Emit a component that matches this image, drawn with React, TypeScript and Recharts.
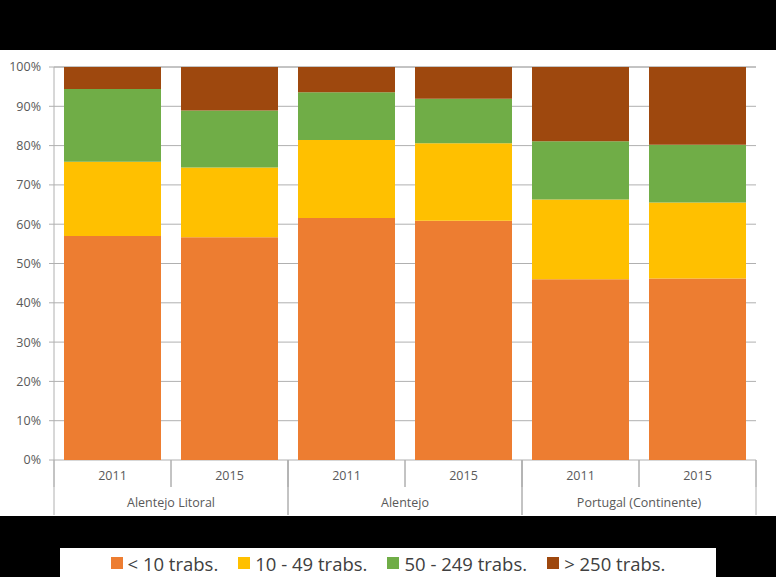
import React from 'react';
import { BarChart, Bar, XAxis, YAxis, CartesianGrid } from 'recharts';

const groups = ['Alentejo Litoral', 'Alentejo Litoral', 'Alentejo', 'Alentejo', 'Portugal (Continente)', 'Portugal (Continente)'];
const years = ['2011', '2015', '2011', '2015', '2011', '2015'];
const lt10 = [57.0, 56.7, 61.6, 60.9, 46.0, 46.2];
const r10to49 = [18.9, 17.7, 19.8, 19.7, 20.3, 19.3];
const r50to249 = [18.5, 14.5, 12.2, 11.3, 14.8, 14.7];
const gt250 = [5.6, 11.1, 6.4, 8.1, 18.9, 19.8];
const yTicks = [0, 10, 20, 30, 40, 50, 60, 70, 80, 90, 100];

const seriesNames = ['< 10 trabs.', '10 - 49 trabs.', '50 - 249 trabs.', '> 250 trabs.'];
const seriesKeys = ['a', 'b', 'c', 'd'];
const seriesColors = ['#ED7D31', '#FFC000', '#70AD47', '#9E480E'];

const data = years.map((y, i) => ({
  year: y,
  group: groups[i],
  a: lt10[i],
  b: r10to49[i],
  c: r50to249[i],
  d: gt250[i],
}));

const FONT = '"Open Sans", sans-serif';
const LINE = '#b0b0b0';
const TEXT = '#595959';

const YearTick = (props: any) => {
  const { x, y, payload } = props;
  const off = payload.offset;
  return (
    <g>
      <line x1={x - off} x2={x - off} y1={y} y2={y + 27} stroke={LINE} strokeWidth={1} />
      <line x1={x + off} x2={x + off} y1={y} y2={y + 27} stroke={LINE} strokeWidth={1} />
      <text x={x} y={y + 17} textAnchor="middle" dominantBaseline="middle" fontFamily={FONT} fontSize={12.5} fill={TEXT}>
        {payload.value}
      </text>
    </g>
  );
};

const GroupTick = (props: any) => {
  const { x, y, payload } = props;
  const off = payload.offset;
  return (
    <g>
      <line x1={x - off} x2={x - off} y1={y - 27} y2={y + 28} stroke={LINE} strokeWidth={1} />
      <line x1={x + off} x2={x + off} y1={y - 27} y2={y + 28} stroke={LINE} strokeWidth={1} />
      <text x={x} y={y + 17} textAnchor="middle" dominantBaseline="middle" fontFamily={FONT} fontSize={12.5} fill={TEXT}>
        {payload.value}
      </text>
    </g>
  );
};

export default function App() {
  return (
    <div style={{ position: 'absolute', left: 0, top: 0, width: 776, height: 577, background: '#000', overflow: 'hidden' }}>
      <div style={{ position: 'absolute', left: 0, top: 50, width: 776, height: 466, background: '#fff' }}>
        <BarChart
          width={776}
          height={465}
          data={data}
          margin={{ top: 17, right: 20, left: 0, bottom: 0 }}
          barCategoryGap={10}
        >
          <CartesianGrid vertical={false} stroke={LINE} />
          <XAxis
            dataKey="year"
            height={27}
            tickSize={0}
            tickMargin={0}
            axisLine={false}
            tick={<YearTick />}
            interval={0}
          />
          <XAxis
            xAxisId="group"
            dataKey="group"
            allowDuplicatedCategory={false}
            height={28}
            tickSize={0}
            tickMargin={0}
            axisLine={false}
            tick={<GroupTick />}
            interval={0}
          />
          <YAxis
            width={54}
            domain={[0, 100]}
            ticks={yTicks}
            interval={0}
            tickFormatter={(v: number) => `${v}%`}
            axisLine={{ stroke: LINE }}
            tickLine={{ stroke: LINE }}
            tickSize={5}
            tickMargin={8}
            tick={{ fontFamily: FONT, fontSize: 12.5, fill: TEXT }}
          />
          {seriesKeys.map((k, i) => (
            <Bar key={k} dataKey={k} name={seriesNames[i]} stackId="s" fill={seriesColors[i]} isAnimationActive={false} />
          ))}
        </BarChart>
      </div>
      <div
        style={{
          position: 'absolute',
          left: 60,
          top: 548,
          width: 656,
          height: 40,
          background: '#fff',
          display: 'flex',
          justifyContent: 'center',
          alignItems: 'flex-start',
          paddingTop: 2,
          boxSizing: 'border-box',
          fontFamily: FONT,
          fontSize: 18.5,
          color: '#404040',
        }}
      >
        {seriesNames.map((n, i) => (
          <div key={n} style={{ display: 'flex', alignItems: 'center', marginRight: i < seriesNames.length - 1 ? 20 : 0, height: 26 }}>
            <span style={{ display: 'inline-block', width: 12, height: 12, background: seriesColors[i], marginRight: 5 }} />
            <span style={{ whiteSpace: 'nowrap' }}>{n}</span>
          </div>
        ))}
      </div>
    </div>
  );
}
